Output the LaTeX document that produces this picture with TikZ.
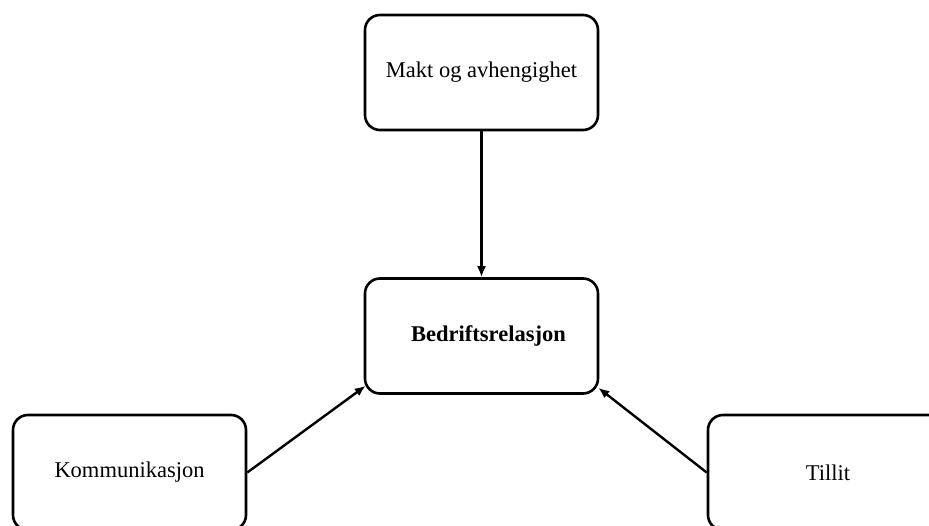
\documentclass[tikz,border=0pt]{standalone}
\usepackage{fontspec}
\setmainfont{Liberation Serif}
\usetikzlibrary{arrows.meta}
\begin{document}
\begin{tikzpicture}[x=1pt,y=-1pt,
  box/.style={draw, line width=2.6pt, rounded corners=15pt, minimum width=233pt, minimum height=115pt, inner sep=0pt, font=\fontsize{22.5}{26}\selectfont},
  conn/.style={line width=2.4pt, -{Latex[length=11pt,width=9pt]}}]
\useasboundingbox (0,0) rectangle (929,526);
\clip (0,0) rectangle (929,526);
\node[box] (top) at (481.5,72.5) {Makt og avhengighet};
\node[box, font=\fontsize{22.5}{26}\selectfont\bfseries] (mid) at (481.5,336) {\hspace*{14pt}Bedriftsrelasjon};
\node[box] (left) at (129.5,472.5) {Kommunikasjon};
\node[box, minimum width=240pt] (right) at (828,472.5) {Tillit};
\draw[conn] (top.south) -- (mid.north);
\draw[conn] (left.east) -- ([shift={(2pt,9pt)}]mid.south west);
\draw[conn] (right.west) -- ([shift={(-1pt,7pt)}]mid.south east);
\end{tikzpicture}
\end{document}
